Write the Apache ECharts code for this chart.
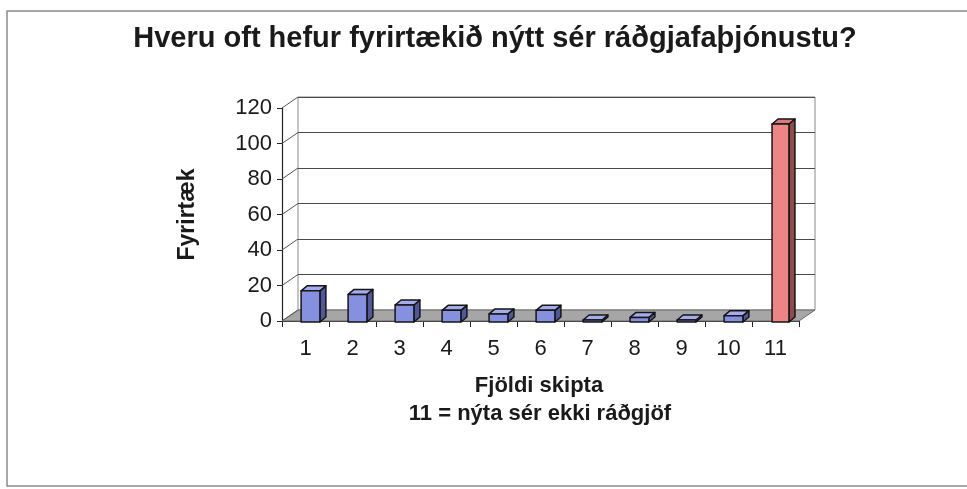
<!DOCTYPE html>
<html>
<head>
<meta charset="utf-8">
<script src="https://cdn.jsdelivr.net/npm/echarts@6/dist/echarts.min.js"></script>
<style>
  html, body { margin: 0; padding: 0; background: #fff; }
  #chart { width: 967px; height: 489px; }
</style>
</head>
<body>
<div id="chart"></div>
<script>
// gögn lesin af myndinni
var skipti = ['1', '2', '3', '4', '5', '6', '7', '8', '9', '10', '11'];
var fyrirtaeki = [17, 15, 9, 6, 4, 6, 0, 2, 0, 3, 111];
var yTicks = [0, 20, 40, 60, 80, 100, 120];

// 3D dýpt (px)
var DX = 16, DY = -11;
var font = "'Liberation Sans', Arial, sans-serif";

var myChart = echarts.init(document.getElementById('chart'));

function bandWidth(api) {
    return api.size([1, 0])[0];
}

var option = {
    animation: false,
    backgroundColor: '#fff',
    title: {
        text: 'Hveru oft hefur fyrirtækið nýtt sér ráðgjafaþjónustu?',
        left: 490,
        top: 19,
        textAlign: 'center',
        textStyle: { fontFamily: font, fontSize: 29, fontWeight: 'bold', color: '#1a1a1a' }
    },
    grid: [
        // framhlið
        { left: 282, right: 168, top: 108, bottom: 168 },
        // bakveggur
        { left: 298, right: 152, top: 97, bottom: 179, show: true, borderColor: '#8a8a8a', borderWidth: 1 }
    ],
    xAxis: [{
        type: 'category',
        gridIndex: 0,
        data: skipti,
        axisLine: { show: true, lineStyle: { color: '#222', width: 1.2 } },
        axisTick: { show: true, length: 6, lineStyle: { color: '#222' } },
        axisLabel: { fontFamily: font, fontSize: 22, color: '#1a1a1a', margin: 17 }
    }, {
        type: 'category',
        gridIndex: 1,
        data: skipti,
        show: false
    }],
    yAxis: [{
        type: 'value',
        gridIndex: 0,
        min: 0,
        max: 120,
        interval: 20,
        name: 'Fyrirtæk',
        nameLocation: 'middle',
        nameGap: 83,
        nameTextStyle: { fontFamily: font, fontSize: 23, fontWeight: 'bold', color: '#1a1a1a' },
        axisLine: { show: true, lineStyle: { color: '#222', width: 1.2 } },
        axisTick: { show: true, length: 5, lineStyle: { color: '#222' } },
        axisLabel: { fontFamily: font, fontSize: 22, color: '#1a1a1a', margin: 10 },
        splitLine: { show: false }
    }, {
        type: 'value',
        gridIndex: 1,
        min: 0,
        max: 120,
        interval: 20,
        axisLine: { show: false },
        axisTick: { show: false },
        axisLabel: { show: false },
        splitLine: { show: true, lineStyle: { color: '#4a4a4a', width: 1.2 } }
    }],
    graphic: [
        { type: 'rect', shape: { x: 7, y: 11, width: 1000, height: 475 },
          style: { fill: 'none', stroke: '#8a8a8a', lineWidth: 1.5 }, silent: true },
        { type: 'text', x: 539, y: 386,
          style: { text: 'Fjöldi skipta', font: 'bold 22px ' + font, fill: '#1a1a1a', align: 'center', verticalAlign: 'middle' } },
        { type: 'text', x: 540, y: 414,
          style: { text: '11 = nýta sér ekki ráðgjöf', font: 'bold 22px ' + font, fill: '#1a1a1a', align: 'center', verticalAlign: 'middle' } }
    ],
    series: [
        // gólf
        {
            type: 'custom',
            xAxisIndex: 0, yAxisIndex: 0,
            data: [[0, 0]],
            silent: true,
            z: 1,
            renderItem: function (params, api) {
                var bw = bandWidth(api);
                var a = api.coord([0, 0]);
                var b = api.coord([skipti.length - 1, 0]);
                var x0 = a[0] - bw / 2, x1 = b[0] + bw / 2, y = a[1];
                return {
                    type: 'polygon',
                    shape: { points: [[x0, y], [x1, y], [x1 + DX, y + DY], [x0 + DX, y + DY]] },
                    style: { fill: '#a6a6a6', stroke: '#6a6a6a', lineWidth: 1 }
                };
            }
        },
        // hliðarveggur (skálínur frá ásmerkjum)
        {
            type: 'custom',
            xAxisIndex: 0, yAxisIndex: 0,
            data: yTicks.map(function (t) { return [0, t]; }),
            silent: true,
            z: 1,
            renderItem: function (params, api) {
                var bw = bandWidth(api);
                var p = api.coord([0, api.value(1)]);
                var x = p[0] - bw / 2;
                return {
                    type: 'line',
                    shape: { x1: x, y1: p[1], x2: x + DX, y2: p[1] + DY },
                    style: { stroke: '#555', lineWidth: 1 }
                };
            }
        },
        // súlur
        {
            type: 'custom',
            xAxisIndex: 0, yAxisIndex: 0,
            data: fyrirtaeki.map(function (v, i) { return [i, v]; }),
            z: 3,
            renderItem: function (params, api) {
                var i = api.value(0);
                var bw = bandWidth(api);
                var base = api.coord([i, 0]);
                var top = api.coord([i, api.value(1)]);
                var red = i === skipti.length - 1;
                var w = bw * (red ? 0.36 : 0.4);
                var cx = base[0] + 5;
                var x0 = cx - w / 2, x1 = cx + w / 2;
                var yb = base[1] + 1, yt = Math.min(top[1], yb - 2);
                var dx = 6, dy = -5;
                var front = red ? '#ee8585' : '#8690e0';
                var topc = red ? '#d97a7a' : '#a4acec';
                var side = red ? '#8e4c4c' : '#4f5898';
                var line = { stroke: '#151515', lineWidth: 1.5, lineJoin: 'round' };
                return {
                    type: 'group',
                    children: [
                        { type: 'polygon',
                          shape: { points: [[x1, yt], [x1 + dx, yt + dy], [x1 + dx, yb + dy], [x1, yb]] },
                          style: Object.assign({ fill: side }, line) },
                        { type: 'polygon',
                          shape: { points: [[x0, yt], [x1, yt], [x1 + dx, yt + dy], [x0 + dx, yt + dy]] },
                          style: Object.assign({ fill: topc }, line) },
                        { type: 'rect',
                          shape: { x: x0, y: yt, width: w, height: yb - yt },
                          style: Object.assign({ fill: front }, line) }
                    ]
                };
            }
        }
    ]
};

myChart.setOption(option);
</script>
</body>
</html>
